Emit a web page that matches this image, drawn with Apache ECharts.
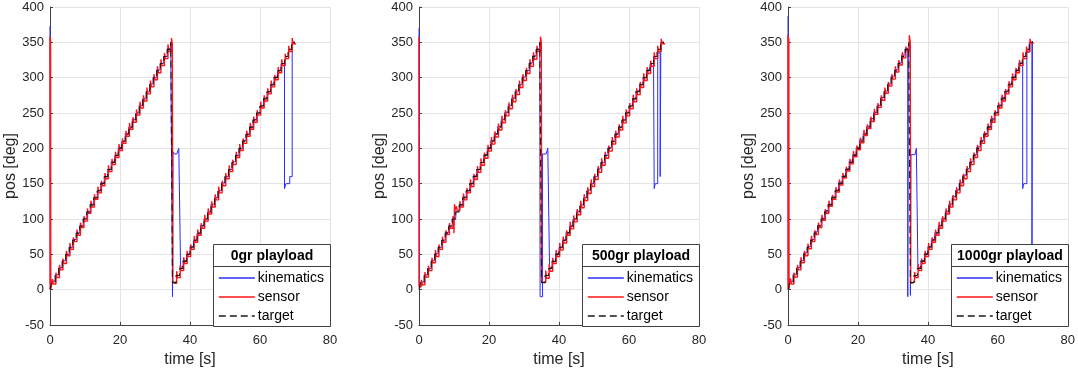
<!DOCTYPE html>
<html>
<head>
<meta charset="utf-8">
<script src="https://cdn.jsdelivr.net/npm/echarts@6/dist/echarts.min.js"></script>
<style>
  html, body { margin: 0; padding: 0; background: #fff; }
  #chart { width: 1078px; height: 373px; }
</style>
</head>
<body>
<div id="chart"></div>
<script>
// panel titles (legend headers)
const panelTitles = ['0gr playload', '500gr playload', '1000gr playload']

// x / y ticks
const xTicks = [0, 20, 40, 60, 80]
const yTicks = [-50, 0, 50, 100, 150, 200, 250, 300, 350, 400]

// target staircase: step times and levels, first and second sweep
const rampTime1 = [0.5, 1.5, 2.5, 3.5, 4.5, 5.5, 6.5, 7.5, 8.5, 9.5, 10.5, 11.5, 12.5, 13.5, 14.5, 15.5, 16.5, 17.5, 18.5, 19.5, 20.5, 21.5, 22.5, 23.5, 24.5, 25.5, 26.5, 27.5, 28.5, 29.5, 30.5, 31.5, 32.5, 33.5, 34.5]
const level1 = [10, 20, 30, 40, 50, 60, 70, 80, 90, 100, 110, 120, 130, 140, 150, 160, 170, 180, 190, 200, 210, 220, 230, 240, 250, 260, 270, 280, 290, 300, 310, 320, 330, 340, 350]
const rampTime2 = [36, 37, 38, 39, 40, 41, 42, 43, 44, 45, 46, 47, 48, 49, 50, 51, 52, 53, 54, 55, 56, 57, 58, 59, 60, 61, 62, 63, 64, 65, 66, 67, 68, 69]
const level2 = [20, 30, 40, 50, 60, 70, 80, 90, 100, 110, 120, 130, 140, 150, 160, 170, 180, 190, 200, 210, 220, 230, 240, 250, 260, 270, 280, 290, 300, 310, 320, 330, 340, 350]
const targetStart = [[0, 0]]
const targetMid = [[35, 10]]
const targetEnd = [[70, 350]]

// kinematics (blue), [time, deg]
const kin0 = [[0, 373], [0.05, 8], [0.5, 12], [1.5, 21], [2.5, 31], [3.5, 41], [4.5, 50], [5.5, 60], [6.5, 71], [7.5, 80], [8.5, 90], [9.5, 101], [10.5, 110], [11.5, 121], [12.5, 130], [13.5, 140], [14.5, 151], [15.5, 160], [16.5, 170], [17.5, 181], [18.5, 190], [19.5, 201], [20.5, 210], [21.5, 221], [22.5, 230], [23.5, 241], [24.5, 250], [25.5, 261], [26.5, 270], [27.5, 280], [28.5, 291], [29.5, 300], [30.5, 311], [31.5, 320], [32.5, 330], [33.5, 341], [34.5, 350], [35, -10], [35.15, 195], [35.6, 192], [36.2, 191], [36.6, 194], [36.8, 200], [37.3, 32], [38, 41], [39, 50], [40, 61], [41, 70], [42, 80], [43, 91], [44, 100], [45, 110], [46, 121], [47, 130], [48, 140], [49, 151], [50, 160], [51, 170], [52, 181], [53, 190], [54, 200], [55, 211], [56, 220], [57, 230], [58, 241], [59, 250], [60, 260], [61, 271], [62, 280], [63, 290], [64, 301], [65, 310], [66, 320], [67, 143], [67.4, 150], [68.5, 160], [69.2, 350], [70, 350]]
const kin1 = [[0, 370], [0.05, 6], [0.5, 11], [1.5, 21], [2.5, 30], [3.5, 41], [4.5, 51], [5.5, 60], [6.5, 70], [7.5, 81], [8.5, 90], [9.5, 100], [10.5, 111], [11.5, 120], [12.5, 131], [13.5, 140], [14.5, 150], [15.5, 161], [16.5, 170], [17.5, 180], [18.5, 191], [19.5, 201], [20.5, 211], [21.5, 221], [22.5, 231], [23.5, 241], [24.5, 251], [25.5, 261], [26.5, 271], [27.5, 281], [28.5, 290], [29.5, 301], [30.5, 310], [31.5, 321], [32.5, 331], [33.5, 340], [34.5, 350], [34.6, -10], [35.3, 192], [36.3, 193], [36.8, 200], [37.3, 31], [38, 40], [39, 51], [40, 60], [41, 70], [42, 81], [43, 90], [44, 100], [45, 111], [46, 120], [47, 130], [48, 141], [49, 150], [50, 160], [51, 171], [52, 180], [53, 190], [54, 201], [55, 210], [56, 221], [57, 230], [58, 240], [59, 251], [60, 260], [61, 270], [62, 281], [63, 290], [64, 300], [65, 311], [66, 320], [67, 330], [67.2, 143], [67.5, 150], [68.2, 335], [68.9, 160], [69.1, 350], [70, 350]]
const kin2 = [[0, 387], [0.05, 7], [0.5, 12], [1.5, 22], [2.5, 31], [3.5, 41], [4.5, 52], [5.5, 61], [6.5, 71], [7.5, 82], [8.5, 91], [9.5, 101], [10.5, 112], [11.5, 121], [12.5, 131], [13.5, 141], [14.5, 152], [15.5, 161], [16.5, 171], [17.5, 182], [18.5, 191], [19.5, 201], [20.5, 212], [21.5, 221], [22.5, 231], [23.5, 242], [24.5, 251], [25.5, 261], [26.5, 272], [27.5, 281], [28.5, 291], [29.5, 302], [30.5, 311], [31.5, 321], [32.5, 332], [33.5, 341], [34.25, -10], [34.4, 346], [35, -8], [35.15, 191], [36.3, 192], [36.7, 200], [37.15, 31], [38, 41], [39, 51], [40, 61], [41, 71], [42, 81], [43, 91], [44, 101], [45, 111], [46, 121], [47, 132], [48, 141], [49, 151], [50, 162], [51, 171], [52, 181], [53, 191], [54, 202], [55, 211], [56, 221], [57, 231], [58, 242], [59, 251], [60, 261], [61, 272], [62, 281], [63, 291], [64, 301], [65, 311], [66, 321], [67.1, 143], [67.4, 150], [68.3, 336], [69, 350], [69.75, -10], [69.9, 352], [70, 352]]

// sensor (red): overshoot and settled level after each target step
const senOver1 = [
  [15, 24, 35, 44, 55, 66, 74, 85, 95, 104, 115, 126, 135, 146, 154, 165, 176, 185, 195, 206, 214, 225, 236, 244, 255, 266, 275, 286, 296, 305, 316, 326, 335, 347, 356],
  [14, 25, 34, 45, 56, 64, 75, 84, 94, 104, 118, 125, 136, 144, 156, 164, 175, 186, 194, 205, 216, 224, 235, 246, 254, 265, 276, 284, 296, 305, 314, 326, 336, 345, 358],
  [16, 24, 35, 46, 55, 65, 76, 84, 95, 106, 114, 126, 134, 145, 156, 165, 174, 185, 196, 204, 215, 226, 234, 245, 256, 264, 275, 286, 294, 305, 316, 325, 336, 344, 360]
]
const senSettle1 = [
  [8, 17, 28, 37, 48, 57, 68, 77, 88, 97, 108, 117, 128, 137, 147, 157, 167, 177, 187, 197, 207, 217, 227, 237, 247, 257, 267, 277, 287, 297, 307, 317, 327, 337, 348],
  [7, 18, 27, 38, 47, 57, 67, 78, 87, 98, 112, 117, 127, 137, 146, 156, 166, 176, 186, 196, 206, 216, 226, 236, 246, 256, 266, 276, 286, 296, 306, 316, 326, 337, 350],
  [8, 18, 28, 38, 48, 58, 68, 78, 88, 98, 108, 118, 128, 138, 148, 158, 168, 178, 188, 198, 208, 218, 228, 238, 248, 258, 268, 278, 288, 298, 308, 318, 328, 338, 350]
]
const senOver2 = [
  [26, 35, 46, 55, 64, 76, 85, 94, 106, 115, 125, 135, 146, 154, 165, 176, 184, 195, 206, 214, 225, 236, 245, 254, 266, 275, 285, 296, 304, 315, 326, 334, 345, 356],
  [27, 36, 45, 56, 66, 75, 84, 96, 105, 114, 126, 135, 145, 156, 164, 175, 186, 195, 204, 216, 225, 234, 246, 255, 264, 276, 285, 294, 306, 315, 324, 336, 345, 355],
  [25, 36, 44, 55, 66, 74, 85, 96, 104, 115, 126, 134, 145, 156, 164, 175, 186, 194, 205, 216, 224, 235, 246, 254, 265, 276, 284, 295, 306, 314, 325, 336, 344, 355]
]
const senSettle2 = [
  [17, 27, 37, 47, 57, 67, 77, 87, 97, 107, 117, 127, 137, 147, 157, 167, 177, 187, 197, 207, 217, 227, 237, 247, 257, 267, 277, 287, 297, 307, 317, 327, 337, 348],
  [16, 26, 37, 47, 56, 66, 77, 86, 96, 106, 116, 126, 136, 146, 156, 166, 176, 186, 196, 206, 216, 226, 236, 246, 256, 266, 276, 286, 296, 306, 316, 327, 337, 348],
  [17, 27, 37, 47, 57, 67, 77, 87, 97, 107, 117, 127, 137, 147, 157, 167, 177, 187, 197, 207, 217, 227, 237, 247, 257, 267, 277, 287, 297, 307, 317, 327, 337, 349]
]
// sensor start (wrap from 360), fall at 35 s, end, and odd spikes
const senHead = [
  [[0, 358], [0.04, 1], [0.08, 356], [0.12, 2], [0.16, 354], [0.22, 0], [0.3, 3]],
  [[0, 358], [0.05, 3], [0.1, 2], [0.3, 5]],
  [[0, 360], [0.04, 2], [0.08, 358], [0.12, 0], [0.16, 357], [0.2, 3], [0.24, 355], [0.3, 1], [0.4, 5]]
]
const senMid = [
  [[35.1, 12], [35.6, 9]],
  [[35.05, 11], [35.6, 10]],
  [[35.1, 9], [35.6, 11]]
]
const senEnd = [[[70.3, 348]], [[70.3, 348]], [[70.3, 349]]]
const senExtra = [[], [[10.0, 80], [10.15, 121], [10.3, 112]], []]
const kinematics = [kin0, kin1, kin2]

// sensor reacts a little after each target step
const LAG_OVER = 0.2
const LAG_SETTLE = 0.45

const gridLeft = [50, 419, 788]
const gridTop = 7
const gridW = 280
const gridH = 319
const FONT = '"Liberation Sans", Arial, Helvetica, sans-serif'
const TXT = '#262626'

function zip(times, values, lag) {
  return times.map((t, i) => [t + (lag || 0), values[i]])
}

const target = [].concat(targetStart, zip(rampTime1, level1), targetMid, zip(rampTime2, level2), targetEnd)

function sensorData(p) {
  const pts = [].concat(
    senHead[p],
    zip(rampTime1, senOver1[p], LAG_OVER),
    zip(rampTime1, senSettle1[p], LAG_SETTLE),
    senMid[p],
    zip(rampTime2, senOver2[p], LAG_OVER),
    zip(rampTime2, senSettle2[p], LAG_SETTLE),
    senEnd[p],
    senExtra[p]
  )
  return pts.sort((a, b) => a[0] - b[0])
}

const grid = [], xAxis = [], yAxis = [], series = [], legend = [], graphic = []

gridLeft.forEach((left, p) => {
  grid.push({ left: left, top: gridTop, width: gridW, height: gridH })
  xAxis.push({
    gridIndex: p, type: 'value', min: xTicks[0], max: xTicks[xTicks.length - 1], interval: 20,
    name: 'time [s]', nameLocation: 'middle', nameGap: 27,
    nameTextStyle: { fontSize: 16, color: TXT, fontFamily: FONT },
    axisLine: { onZero: false, lineStyle: { color: '#404040', width: 1 } },
    axisTick: { inside: true, length: 3, lineStyle: { color: '#404040' } },
    axisLabel: { fontSize: 13, color: TXT, fontFamily: FONT, margin: 9 },
    splitLine: { show: true, lineStyle: { color: '#e4e4e4', width: 1 } }
  })
  yAxis.push({
    gridIndex: p, type: 'value', min: yTicks[0], max: yTicks[yTicks.length - 1], interval: 50,
    name: 'pos [deg]', nameLocation: 'middle', nameGap: 29, nameRotate: 90,
    nameTextStyle: { fontSize: 16, color: TXT, fontFamily: FONT },
    axisLine: { show: true, onZero: false, lineStyle: { color: '#404040', width: 1 } },
    axisTick: { show: true, inside: true, length: 3, lineStyle: { color: '#404040' } },
    axisLabel: { fontSize: 13, color: TXT, fontFamily: FONT, margin: 6 },
    splitLine: { show: true, lineStyle: { color: '#e4e4e4', width: 1 } }
  })

  series.push({
    name: 'kinematics', type: 'line', xAxisIndex: p, yAxisIndex: p, step: 'end',
    symbol: 'none', data: kinematics[p],
    lineStyle: { color: '#2b2bff', width: 1 }, itemStyle: { color: '#2b2bff' }
  })
  series.push({
    name: 'sensor', type: 'line', xAxisIndex: p, yAxisIndex: p, step: 'end',
    symbol: 'none', data: sensorData(p),
    lineStyle: { color: '#ff1414', width: 1.4 }, itemStyle: { color: '#ff1414' }
  })
  series.push({
    name: 'target', type: 'line', xAxisIndex: p, yAxisIndex: p, step: 'end',
    symbol: 'none', data: target,
    lineStyle: { color: '#1a1a1a', width: 1.1, type: [7, 4] }, itemStyle: { color: '#1a1a1a' }
  })

  // legend box with bold header
  const bx = left + 163.5
  graphic.push({
    type: 'rect', z: 10,
    shape: { x: bx, y: 244.5, width: 117, height: 82 },
    style: { fill: '#fff', stroke: '#404040', lineWidth: 1 }
  })
  graphic.push({
    type: 'line', z: 11,
    shape: { x1: bx, y1: 266.5, x2: bx + 117, y2: 266.5 },
    style: { stroke: '#404040', lineWidth: 1 }
  })
  graphic.push({
    type: 'text', z: 11, x: bx + 58.5, y: 256,
    style: {
      text: panelTitles[p], fill: '#000', fontFamily: FONT, fontSize: 14, fontWeight: 'bold',
      textAlign: 'center', textVerticalAlign: 'middle'
    }
  })
  legend.push({
    left: left + 168, top: 271, orient: 'vertical', padding: 0,
    itemWidth: 36, itemHeight: 4, itemGap: 5, selectedMode: false, z: 20,
    data: ['kinematics', 'sensor', 'target'],
    itemStyle: { opacity: 0 },
    lineStyle: { width: 1.6 },
    textStyle: { fontSize: 14, lineHeight: 14, color: '#000', fontFamily: FONT, padding: [0, 0, 0, -2] }
  })
})

const chart = echarts.init(document.getElementById('chart'))
chart.setOption({
  animation: false,
  backgroundColor: '#fff',
  textStyle: { fontFamily: FONT },
  grid: grid,
  xAxis: xAxis,
  yAxis: yAxis,
  legend: legend,
  graphic: graphic,
  series: series
})
</script>
</body>
</html>
